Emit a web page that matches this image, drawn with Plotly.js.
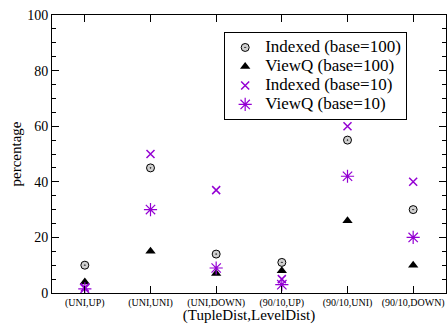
<!DOCTYPE html>
<html><head><meta charset="utf-8">
<script src="https://cdn.plot.ly/plotly-3.0.1.min.js"></script>
<style>html,body{margin:0;padding:0;background:#fff}</style>
</head><body>
<div id="chart" style="width:448px;height:324px"></div>
<script>
var categories = ["(UNI,UP)", "(UNI,UNI)", "(UNI,DOWN)", "(90/10,UP)", "(90/10,UNI)", "(90/10,DOWN)"];
var indexed100 = [10, 45, 14, 11, 55, 30];
var viewq100 = [4, 15, 7, 8, 26, 10];
var indexed10 = [2, 50, 37, 5, 60, 40];
var viewq10 = [1.5, 30, 9, 3, 42, 20];
var seriesNames = ["Indexed (base=100)", "ViewQ (base=100)", "Indexed (base=10)", "ViewQ (base=10)"];

var purple = "#9400d3";
var xs = categories.map(function(_, i){ return i; });
function legName(s){ return '<span style="font-size:17px">' + s + '</span>'; }
var traces = [
  {x: xs, y: indexed100, name: legName(seriesNames[0]), mode: "markers", type: "scatter",
   marker: {symbol: "circle-dot", size: 8, color: "#d0d0d0", line: {color: "#000", width: 1}}},
  {x: xs, y: viewq100, name: legName(seriesNames[1]), mode: "markers", type: "scatter",
   marker: {symbol: "triangle-up", size: 9, color: "#000"}},
  {x: xs, y: indexed10, name: legName(seriesNames[2]), mode: "markers", type: "scatter",
   marker: {symbol: "x-thin", size: 8, color: purple, line: {color: purple, width: 1.5}}},
  {x: xs, y: viewq10, name: legName(seriesNames[3]), mode: "markers", type: "scatter",
   marker: {symbol: "asterisk", size: 11, color: purple, line: {color: purple, width: 1.2}}}
];

var fam = "'Liberation Serif', 'Times New Roman', Times, serif";
var layout = {
  width: 448, height: 324,
  margin: {l: 52, r: 2, t: 15, b: 31},
  paper_bgcolor: "#fff", plot_bgcolor: "#fff",
  showlegend: true,
  font: {family: fam, color: "#000"},
  xaxis: {
    range: [-0.5, 5.5], tickvals: xs, ticktext: categories,
    ticks: "inside", ticklen: 7, tickcolor: "#000", tickwidth: 1,
    showline: true, linecolor: "#000", linewidth: 1, mirror: "allticks",
    showgrid: false, zeroline: false, ticklabeloverflow: "allow",
    tickfont: {family: fam, size: 10, color: "#000"},
    title: {text: "(TupleDist,LevelDist)", font: {family: fam, size: 15, color: "#000"}, standoff: 0}
  },
  yaxis: {
    range: [0, 100], tickvals: [0, 20, 40, 60, 80, 100],
    ticks: "inside", ticklen: 7, tickcolor: "#000", tickwidth: 1,
    minor: {dtick: 5, ticks: "inside", ticklen: 4, tickcolor: "#000", showgrid: false},
    showline: true, linecolor: "#000", linewidth: 1, mirror: "allticks",
    showgrid: false, zeroline: false,
    tickfont: {family: fam, size: 14, color: "#000"},
    title: {text: "percentage", font: {family: fam, size: 15, color: "#000"}, standoff: 1}
  },
  legend: {
    x: 0.437, y: 0.939, xanchor: "left", yanchor: "top",
    bgcolor: "#fff", bordercolor: "#000", borderwidth: 1,
    font: {family: fam, size: 12, color: "#000"},
    tracegroupgap: 0, itemwidth: 30
  }
};
Plotly.newPlot("chart", traces, layout, {displayModeBar: false, staticPlot: true});
</script>
</body></html>
